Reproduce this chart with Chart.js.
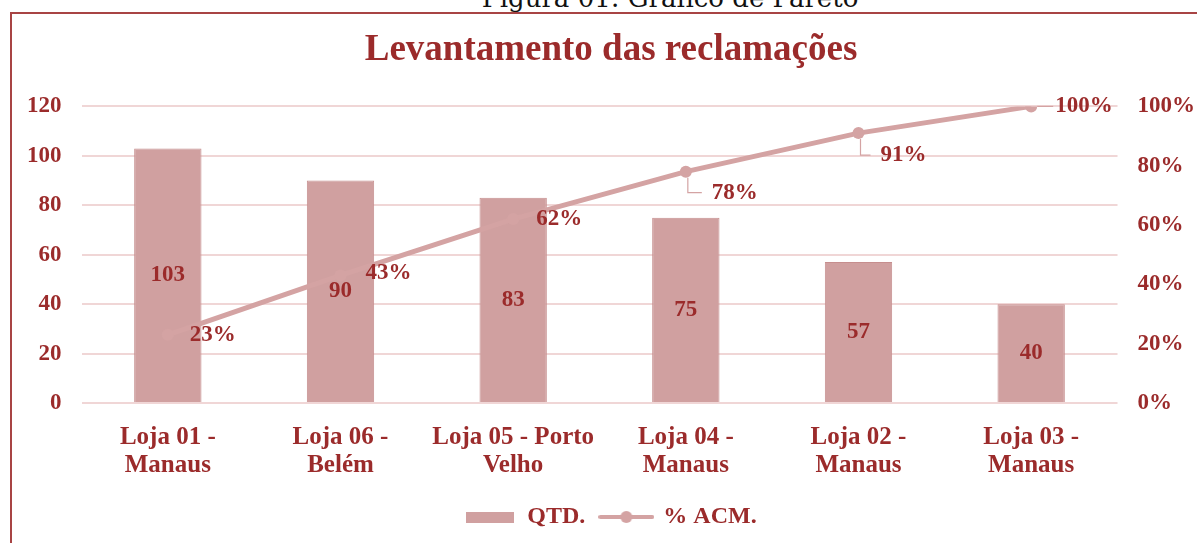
<!DOCTYPE html>
<html>
<head>
<meta charset="utf-8">
<script src="https://cdn.jsdelivr.net/npm/chart.js@4.4.1/dist/chart.umd.min.js"></script>
<style>
  html, body { margin: 0; padding: 0; background: #fff; overflow: hidden; }
  body { width: 1197px; height: 543px; position: relative; }
  #caption { position: absolute; left: 0; width: 1340px; top: -17px; text-align: center; line-height: 30px;
             font: 26px "DejaVu Serif", serif; color: #111; white-space: nowrap; }
  #frame { position: absolute; left: 10px; top: 12px; width: 1220px; height: 600px;
           border: 2px solid #a84444; box-sizing: border-box; }
  #wrap { position: absolute; left: 0; top: 0; width: 1215px; height: 543px; }
</style>
</head>
<body>
<div id="caption">Figura 01: Gráfico de Pareto</div>
<div id="frame"></div>
<div id="wrap"><canvas id="pareto"></canvas></div>
<script>
const lojas = [
  ['Loja 01 -', 'Manaus'],
  ['Loja 06 -', 'Belém'],
  ['Loja 05 - Porto', 'Velho'],
  ['Loja 04 -', 'Manaus'],
  ['Loja 02 -', 'Manaus'],
  ['Loja 03 -', 'Manaus']
];
const qtd = [103, 90, 83, 75, 57, 40];
const acumulado = [23, 43, 62, 78, 91, 100];
const qtdTicks = [0, 20, 40, 60, 80, 100, 120];
const pctTicks = [0, 20, 40, 60, 80, 100];

const red = '#9b2b2b';
const barFill = '#d0a0a0';
const barLine = '#c68e8e';
const lineColor = '#d4a3a3';
const gridColor = '#f0d6d6';
const serif = '"Liberation Serif", "Times New Roman", serif';

Chart.defaults.font.family = serif;
Chart.defaults.font.weight = 'bold';
Chart.defaults.color = red;

// little pictures for the legend
function legendIcon(kind) {
  const c = document.createElement('canvas');
  const g = c.getContext('2d');
  if (kind === 'bar') {
    c.width = 48; c.height = 11;
    g.fillStyle = barFill;
    g.fillRect(0, 0, 48, 11);
  } else {
    c.width = 56; c.height = 14;
    g.strokeStyle = lineColor;
    g.lineWidth = 4;
    g.lineCap = 'round';
    g.beginPath(); g.moveTo(2, 7); g.lineTo(54, 7); g.stroke();
    g.fillStyle = lineColor;
    g.beginPath(); g.arc(28, 7, 6, 0, Math.PI * 2); g.fill();
  }
  return c;
}
const barIcon = legendIcon('bar');
const lineIcon = legendIcon('line');

// where the % labels sit relative to their points
const pctLabelPos = [
  { dx: 22, dy: 0 },
  { dx: 25, dy: -2 },
  { dx: 23, dy: 0 },
  { dx: 26, dy: 21 },
  { dx: 22, dy: 22 },
  { dx: 24, dy: 0, lead: true }
];

const valueLabels = {
  id: 'valueLabels',
  afterDatasetsDraw(chart) {
    const ctx = chart.ctx;
    ctx.save();
    ctx.font = 'bold 23px ' + serif;
    ctx.fillStyle = red;
    ctx.textBaseline = 'middle';

    const bars = chart.getDatasetMeta(0).data;
    ctx.textAlign = 'center';
    bars.forEach((b, i) => {
      ctx.fillText(String(qtd[i]), b.x, (b.y + b.base) / 2);
    });

    const pts = chart.getDatasetMeta(1).data;
    ctx.textAlign = 'left';
    pts.forEach((p, i) => {
      const o = pctLabelPos[i];
      const tx = p.x + o.dx, ty = p.y + o.dy;
      ctx.strokeStyle = lineColor;
      ctx.lineWidth = 1.2;
      if (o.dy > 5) {
        ctx.beginPath();
        ctx.moveTo(p.x + 2, p.y + 6);
        ctx.lineTo(p.x + 2, ty);
        ctx.lineTo(tx - 10, ty);
        ctx.stroke();
      } else if (o.lead) {
        ctx.beginPath();
        ctx.moveTo(p.x + 6, ty);
        ctx.lineTo(tx - 2, ty);
        ctx.stroke();
      }
      ctx.fillText(acumulado[i] + '%', tx, ty);
    });
    ctx.restore();
  }
};

new Chart(document.getElementById('pareto'), {
  type: 'bar',
  data: {
    labels: lojas,
    datasets: [
      {
        label: 'QTD.',
        data: qtd,
        backgroundColor: barFill,
        borderColor: barLine,
        borderWidth: 1,
        barPercentage: 0.39,
        categoryPercentage: 1,
        yAxisID: 'y',
        order: 2
      },
      {
        type: 'line',
        label: '% ACM.',
        data: acumulado,
        borderColor: lineColor,
        backgroundColor: lineColor,
        borderWidth: 5,
        pointRadius: 6,
        pointHoverRadius: 6,
        pointBackgroundColor: lineColor,
        pointBorderWidth: 0,
        tension: 0,
        yAxisID: 'y1',
        order: 1
      }
    ]
  },
  options: {
    responsive: true,
    maintainAspectRatio: false,
    animation: false,
    layout: { padding: { left: 7, right: 0, top: 20, bottom: 4 } },
    plugins: {
      title: {
        display: true,
        text: 'Levantamento das reclamações',
        color: red,
        font: { size: 37, weight: 'bold' },
        padding: { top: 8, bottom: 34 }
      },
      legend: {
        position: 'bottom',
        labels: {
          usePointStyle: true,
          pointStyleWidth: 50,
          font: { size: 24, weight: 'bold' },
          color: red,
          padding: 16,
          generateLabels(chart) {
            const items = Chart.defaults.plugins.legend.labels.generateLabels(chart);
            items.sort((a, b) => a.datasetIndex - b.datasetIndex);
            items.forEach(it => { it.pointStyle = it.datasetIndex === 0 ? barIcon : lineIcon; });
            return items;
          }
        }
      },
      tooltip: { enabled: false }
    },
    scales: {
      x: {
        grid: { display: false, drawTicks: false },
        border: { display: false },
        ticks: { color: red, font: { size: 25, weight: 'bold', lineHeight: 1.12 }, padding: 21, maxRotation: 0 },
        afterFit(scale) { scale.height -= 12; }
      },
      y: {
        position: 'left',
        min: qtdTicks[0],
        max: qtdTicks[qtdTicks.length - 1],
        afterBuildTicks(scale) { scale.ticks = qtdTicks.map(v => ({ value: v })); },
        grid: { color: gridColor, lineWidth: 2, drawTicks: false },
        border: { display: false },
        ticks: { color: red, font: { size: 23, weight: 'bold' }, padding: 20 }
      },
      y1: {
        position: 'right',
        min: pctTicks[0],
        max: pctTicks[pctTicks.length - 1],
        afterBuildTicks(scale) { scale.ticks = pctTicks.map(v => ({ value: v })); },
        grid: { display: false, drawTicks: false },
        border: { display: false },
        ticks: { color: red, font: { size: 23, weight: 'bold' }, padding: 20, callback: v => v + '%' }
      }
    }
  },
  plugins: [valueLabels]
});
</script>
</body>
</html>
